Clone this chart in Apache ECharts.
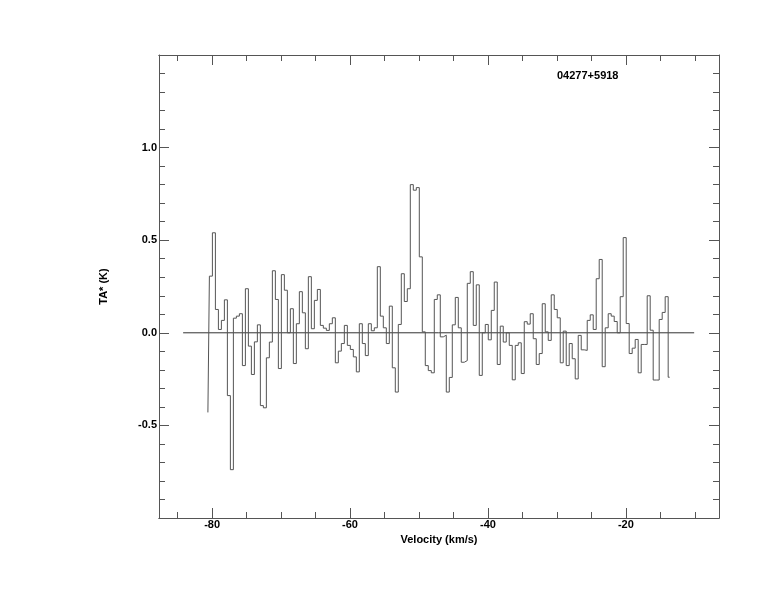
<!DOCTYPE html>
<html>
<head>
<meta charset="utf-8">
<script src="https://cdn.jsdelivr.net/npm/echarts@6/dist/echarts.min.js"></script>
<style>
html,body{margin:0;padding:0;background:#fff;}
#chart{width:774px;height:612px;}
</style>
</head>
<body>
<div id="chart"></div>
<script>
// Spectrum: first channel centre velocity and channel width (km/s)
const channelStart = -80.61;
const channelWidth = 0.4348;
// Antenna temperature TA* (K) per channel
const ta = [
 -0.43, 0.306, 0.54, 0.126, 0.018, 0.067, 0.178, -0.339, -0.739, 0.079,
 0.09, 0.103, -0.177, 0.238, -0.072, -0.225, -0.049, 0.043, -0.393, -0.405,
 -0.135, -0.05, 0.335, 0.18, -0.193, 0.314, 0.23, 0.0, 0.13, -0.166,
 0.049, 0.222, 0.108, -0.086, 0.303, 0.022, 0.175, 0.234, 0.04, 0.025,
 0.013, 0.049, 0.081, -0.162, -0.099, -0.058, 0.04, -0.068, -0.09, -0.13,
 -0.211, 0.049, -0.058, -0.123, 0.049, 0.011, 0.027, 0.357, 0.09, 0.027,
 -0.058, 0.144, -0.189, -0.32, 0.045, 0.319, 0.169, 0.238, 0.80, 0.77,
 0.784, 0.41, 0.005, -0.177, -0.204, -0.216, 0.18, 0.205, -0.022, -0.013,
 -0.32, -0.241, 0.043, 0.191, 0.027, -0.159, -0.15, 0.267, 0.33, 0.04,
 0.259, -0.23, 0.0, 0.045, -0.038, 0.121, 0.274, -0.171, 0.036, -0.05,
 0.0, -0.068, -0.254, -0.068, -0.054, -0.22, 0.06, 0.047, 0.103, -0.032,
 -0.171, -0.112, 0.157, 0.005, -0.041, 0.205, 0.126, 0.081, -0.162, 0.009,
 -0.177, -0.058, -0.14, -0.249, -0.014, -0.092, -0.095, 0.067, 0.097, 0.018,
 0.292, 0.396, -0.183, 0.027, 0.103, 0.09, 0.061, 0.0, 0.195, 0.514,
 0.05, -0.112, -0.083, -0.036, -0.216, -0.063, -0.063, 0.2, 0.014, -0.255,
 -0.255, 0.072, 0.11, 0.195, -0.24
];
// Baseline (zero level) drawn from / to these velocities
const baseline = [[-84.2, 0], [-10.1, 0]];
// Tick positions and labels
const xMajorTicks = [-80, -60, -40, -20];
const xMinorTicks = [-85, -75, -70, -65, -55, -50, -45, -35, -30, -25, -15, -10];
const sourceName = '04277+5918';
const xName = 'Velocity (km/s)';
const yName = 'TA* (K)';

const spectrum = ta.map((t, i) => [channelStart + i * channelWidth, t]);

const FONT = 'Liberation Sans';
const AX = '#555';
const xRange = {min: -87.7, max: -6.5};

function xAx(pos, ticks, len, labels) {
  return {
    type: 'value', position: pos, min: xRange.min, max: xRange.max,
    axisLine: {show: true, onZero: false, lineStyle: {color: AX, width: 1}},
    axisTick: {show: true, inside: true, length: len, customValues: ticks, lineStyle: {color: AX}},
    axisLabel: labels ? {show: true, customValues: ticks, margin: 1, color: '#000',
      fontFamily: FONT, fontWeight: 'bold', fontSize: 11, formatter: v => String(v)} : {show: false},
    splitLine: {show: false},
    name: labels ? xName : '', nameLocation: 'middle', nameGap: 10,
    nameTextStyle: {color: '#000', fontFamily: FONT, fontWeight: 'bold', fontSize: 11}
  };
}
function yAx(pos, labels) {
  return {
    type: 'value', position: pos, min: -1, max: 1.5, interval: 0.5,
    axisLine: {show: true, onZero: false, lineStyle: {color: AX, width: 1}},
    axisTick: {show: true, inside: true, length: 10, lineStyle: {color: AX}},
    minorTick: {show: true, splitNumber: 5, length: 6, lineStyle: {color: AX}},
    axisLabel: labels ? {show: true, margin: 2, color: '#000', showMinLabel: false, showMaxLabel: false,
      fontFamily: FONT, fontWeight: 'bold', fontSize: 11, formatter: v => v.toFixed(1)} : {show: false},
    splitLine: {show: false},
    name: labels ? yName : '', nameLocation: 'middle', nameGap: 50, nameRotate: 90,
    nameTextStyle: {color: '#000', fontFamily: FONT, fontWeight: 'bold', fontSize: 11}
  };
}

const chart = echarts.init(document.getElementById('chart'), null, {renderer: 'canvas'});
chart.setOption({
  animation: false,
  backgroundColor: '#fff',
  title: {text: sourceName, left: 557, top: 70, padding: 0,
    textStyle: {color: '#000', fontFamily: FONT, fontWeight: 'bold', fontSize: 11}},
  grid: {left: 159, right: 55, top: 55, bottom: 94, containLabel: false},
  xAxis: [
    xAx('bottom', xMajorTicks, 10, true),
    xAx('bottom', xMinorTicks, 6, false),
    xAx('top', xMajorTicks, 10, false),
    xAx('top', xMinorTicks, 6, false)
  ],
  yAxis: [yAx('left', true), yAx('right', false)],
  series: [
    {type: 'line', xAxisIndex: 0, yAxisIndex: 0, data: baseline, showSymbol: false,
      lineStyle: {color: '#333', width: 1}, silent: true},
    {type: 'line', xAxisIndex: 0, yAxisIndex: 0, data: spectrum, step: 'middle', showSymbol: false,
      lineStyle: {color: '#555', width: 1}, silent: true}
  ]
});
</script>
</body>
</html>
